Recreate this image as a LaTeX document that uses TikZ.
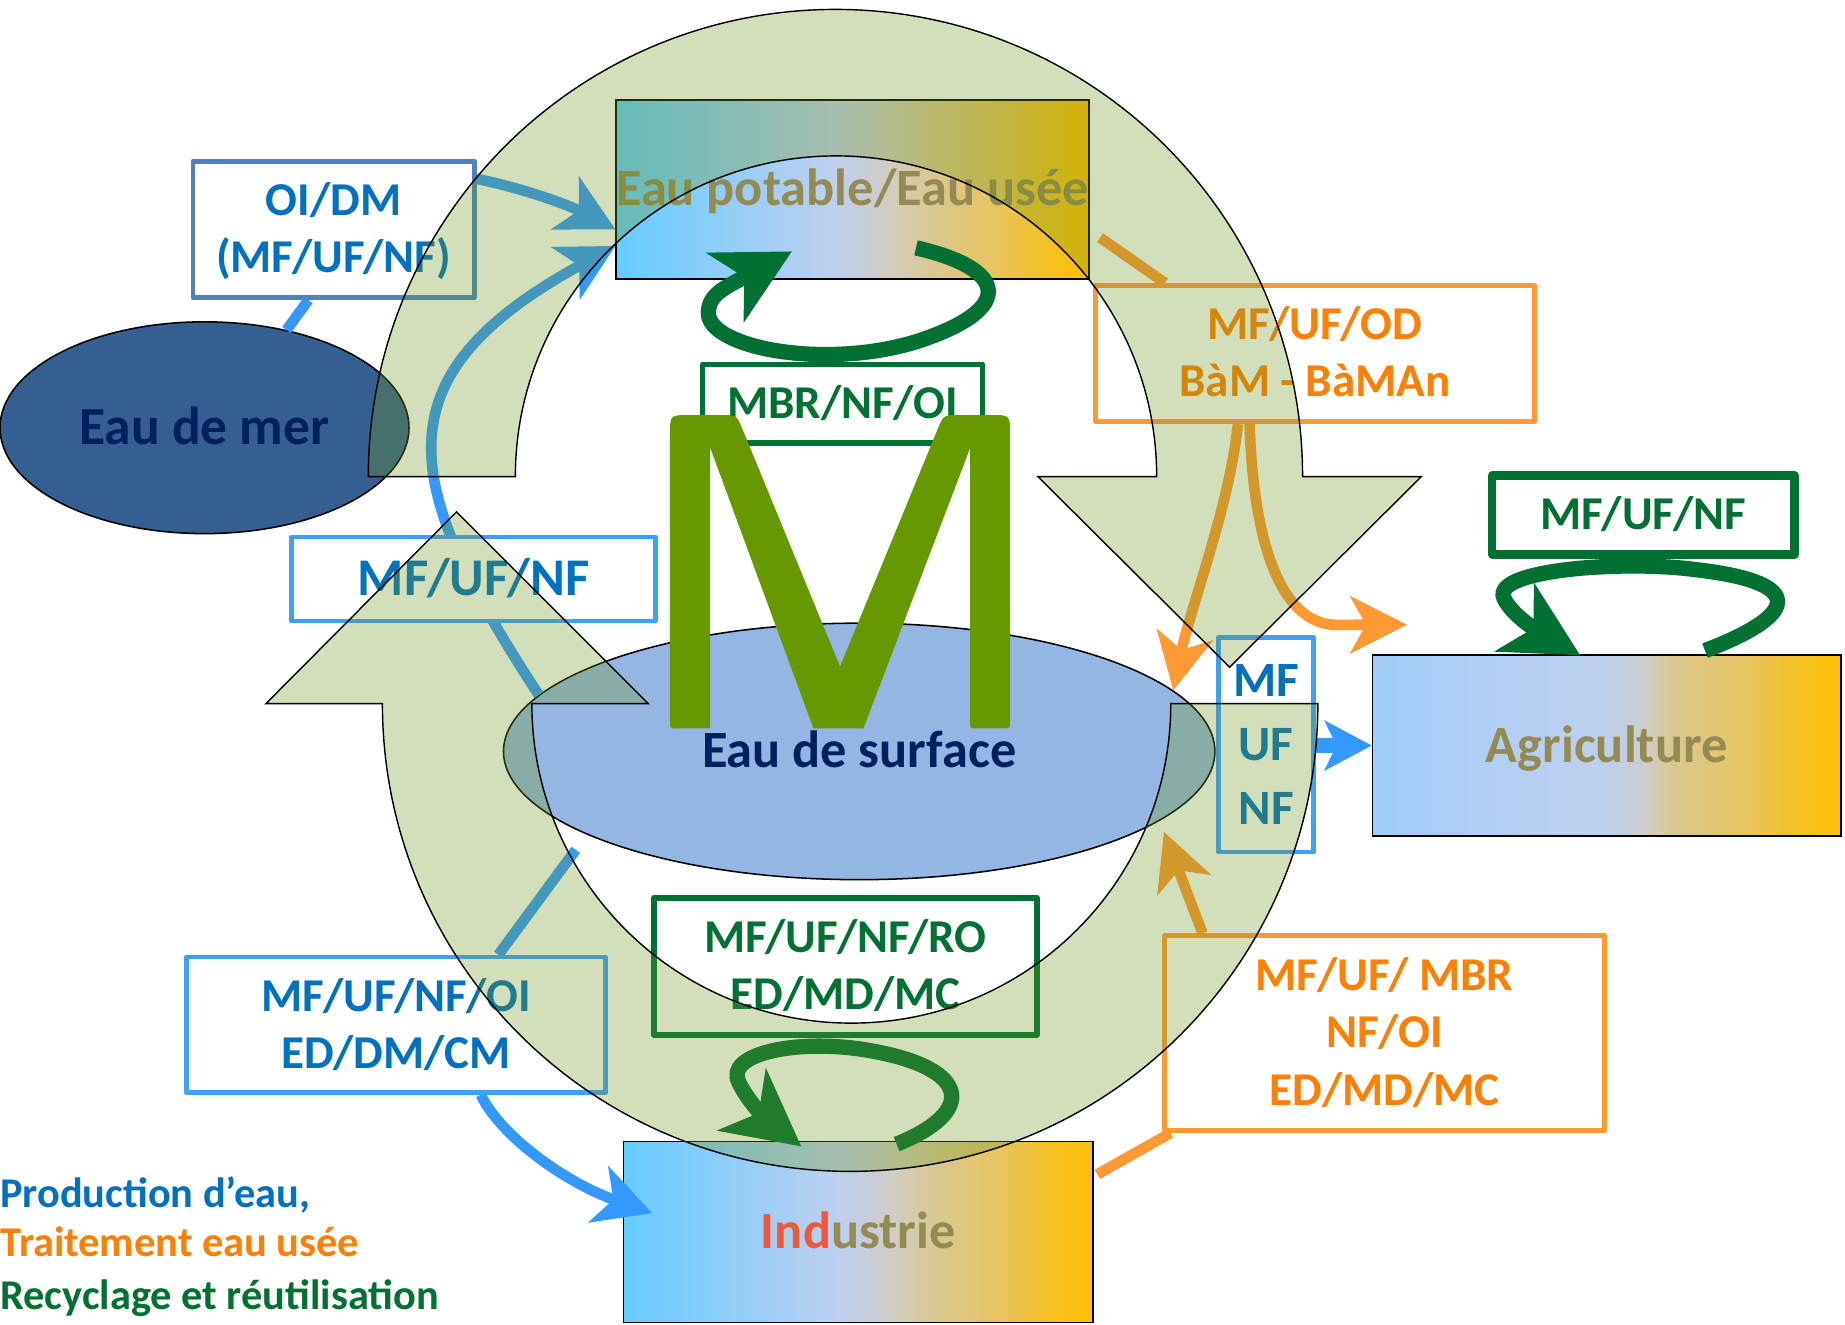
\documentclass[tikz,border=0pt]{standalone}
\usepackage{fontspec}
\setmainfont{Carlito}
\usetikzlibrary{arrows.meta,shapes.geometric}

% colours
\definecolor{seablue}{RGB}{54,95,145}
\definecolor{surfblue}{RGB}{149,182,226}
\definecolor{navytext}{RGB}{0,32,96}
\definecolor{khaki}{RGB}{148,138,84}
\definecolor{indred}{RGB}{240,88,60}
\definecolor{txtblue}{RGB}{0,112,192}
\definecolor{lineblue}{RGB}{51,153,255}
\definecolor{steel}{RGB}{79,129,189}
\definecolor{boxblue}{RGB}{60,160,255}
\definecolor{lineorange}{RGB}{255,153,51}
\definecolor{txtorange}{RGB}{255,128,0}
\definecolor{dgreen}{RGB}{0,112,51}
\definecolor{mgreen}{RGB}{102,153,0}
\definecolor{bandolive}{RGB}{110,150,30}

% gradient of the sector boxes (box edges sit at 25bp and 75bp)
\definecolor{gA0}{RGB}{102,204,255}
\definecolor{gA1}{RGB}{135,205,250}
\definecolor{gA2}{RGB}{190,208,238}
\definecolor{gA3}{RGB}{200,205,215}
\definecolor{gA4}{RGB}{210,205,190}
\definecolor{gA5}{RGB}{218,200,145}
\definecolor{gA6}{RGB}{232,196,90}
\definecolor{gA7}{RGB}{240,193,50}
\definecolor{gold}{RGB}{255,192,0}
\definecolor{gB0}{RGB}{160,205,250}
\definecolor{gB1}{RGB}{175,207,245}
\pgfdeclarehorizontalshading{usewater}{100bp}{color(0bp)=(gA0); color(25bp)=(gA0); color(34bp)=(gA1); color(48bp)=(gA2); color(51.5bp)=(gA3); color(54bp)=(gA4); color(58.5bp)=(gA5); color(65.5bp)=(gA6); color(69bp)=(gA7); color(75bp)=(gold); color(100bp)=(gold)}
\pgfdeclarehorizontalshading{agriwater}{100bp}{color(0bp)=(gB0); color(25bp)=(gB0); color(35.5bp)=(gB1); color(50bp)=(gA2); color(53bp)=(gA3); color(54.5bp)=(gA4); color(57bp)=(gA5); color(65.5bp)=(gA6); color(69bp)=(gA7); color(75bp)=(gold); color(100bp)=(gold)}

\pgfdeclarelayer{boxes}
\pgfdeclarelayer{links}
\pgfdeclarelayer{over}
\pgfsetlayers{boxes,links,main,over}

\newcommand\lblfont{\fontsize{40}{48.5}\selectfont\bfseries}
\newcommand\lblbigfont{\fontsize{45}{50}\selectfont\bfseries}
\newcommand\vfont{\fontsize{42}{54.5}\selectfont\bfseries}
\newcommand\bigfont{\fontsize{44.5}{52}\selectfont\bfseries}
\newcommand\legfont{\fontsize{36}{42}\selectfont\bfseries}
\newcommand\lnstrut{\vrule width0pt height.9em depth.268em\relax}

\begin{document}
\begin{tikzpicture}[x=1pt, y=-1pt, line join=round,
  bigbox/.style={draw=black, line width=1.3pt, inner sep=0pt, font=\bigfont, text=khaki},
  water/.style={ellipse, draw=black, line width=1.3pt, inner sep=0pt, font=\bigfont, text=navytext},
  lbl/.style={draw, fill=white, inner sep=0pt, align=center, font=\lblfont, line width=4pt},
  blueln/.style={draw=lineblue, line width=9pt},
  bluearr/.style={blueln, -{Stealth[length=48pt,width=50pt,inset=13pt]}},
  orln/.style={draw=lineorange, line width=9pt},
  orarr/.style={orln, -{Stealth[length=48pt,width=48pt,inset=13pt]}},
  gloop/.style={draw=dgreen, line width=13pt, -{Stealth[length=64pt,width=66pt,inset=18pt]}},
  band/.style={fill=bandolive, fill opacity=0.3, draw=black, line width=1.2pt},
  legline/.style={anchor=base west, inner sep=0pt, font=\legfont}]

% ---------- sectors and water bodies
\begin{pgfonlayer}{boxes}
\path[fill=white, use as bounding box] (0,0) rectangle (1568,1126);
\node[bigbox, shading=usewater, minimum width=399pt, minimum height=152pt] (potable) at (724.5,161) {\lnstrut Eau potable/Eau usée};
\node[bigbox, shading=agriwater, minimum width=398pt, minimum height=154pt] (agri) at (1365.5,633.6) {\lnstrut Agriculture};
\node[bigbox, shading=usewater, minimum width=399pt, minimum height=154pt] (industrie) at (729.4,1047) {\lnstrut\textcolor{indred}{Ind}ustrie};
\node[water, fill=seablue, minimum width=347.6pt, minimum height=180pt, font=\fontsize{45.5}{52}\selectfont\bfseries] (sea) at (173.8,363.5) {\lnstrut Eau de mer};
\node[water, fill=surfblue, minimum width=604.6pt, minimum height=218pt] (surface) at (730.2,638.6) {\lnstrut Eau de surface};
\end{pgfonlayer}

% ---------- process labels
\node[lbl, draw=steel, text=txtblue, minimum width=239pt, minimum height=116pt] (oidm) at (283.5,195) {\lnstrut OI/DM\\\lnstrut(MF/UF/NF)};
\node[lbl, draw=dgreen, text=dgreen, line width=4.5pt, minimum width=238pt, minimum height=67pt] (mbrnf) at (716,343) {\lnstrut MBR/NF/OI};
\node[lbl, draw=lineorange, text=txtorange, minimum width=373.5pt, minimum height=116pt] (od) at (1117.5,300.4) {\lnstrut MF/UF/OD\\\lnstrut BàM - BàMAn};
\node[lbl, draw=dgreen, text=dgreen, line width=7pt, minimum width=257pt, minimum height=67pt] (agrinf) at (1396.5,437.7) {\lnstrut MF/UF/NF};
\node[lbl, draw=boxblue, text=txtblue, font=\lblbigfont, minimum width=309pt, minimum height=71.5pt] (lnf) at (402.5,492) {\lnstrut MF/UF/NF};
\node[lbl, draw=boxblue, text=txtblue, font=\vfont, minimum width=81pt, minimum height=182pt] (vbox) at (1076,633) {\lnstrut MF\\\lnstrut UF\\\lnstrut NF};
\node[lbl, draw=dgreen, text=dgreen, line width=5pt, minimum width=325pt, minimum height=117pt] (ro) at (718.5,821.3) {\lnstrut MF/UF/NF/RO\\\lnstrut ED/MD/MC};
\node[lbl, draw=boxblue, text=txtblue, minimum width=356pt, minimum height=115pt] (ri) at (336.6,870.9) {\lnstrut MF/UF/NF/OI\\\lnstrut ED/DM/CM};
\node[lbl, draw=lineorange, text=txtorange, minimum width=373.6pt, minimum height=165.7pt] (mbrbox) at (1176.7,878) {\lnstrut MF/UF/ MBR\\\lnstrut NF/OI\\\lnstrut ED/MD/MC};

% ---------- flows
\begin{pgfonlayer}{links}
% water production (blue)
\draw[blueln] (sea.50.6) -- ([xshift=-21.5pt]oidm.south);
\draw[bluearr] ([yshift=43pt]oidm.east) .. controls (445,160) and (485,175) .. ([yshift=-34pt]potable.west);
\draw[bluearr] (surface.170) .. controls (340,410) and (320,320) .. ([yshift=-48pt]potable.west);
\draw[blueln, shorten <=16pt] (surface.197.5) -- ([xshift=87pt]ri.north);
\draw[bluearr] ([xshift=72pt]ri.south) .. controls (425,965) and (480,1005) .. ([xshift=25pt,yshift=16pt]industrie.west);
\draw[blueln, line width=12.5pt, -{Stealth[length=40pt,width=42pt,inset=10pt]}] (surface.east |- agri.west) -- (agri.west);
% wastewater treatment (orange)
\draw[orln] ([xshift=9pt,yshift=-41pt]potable.east) -- ([xshift=-127.5pt]od.north);
\draw[orarr] ([xshift=-65.5pt]od.south) .. controls (1045,430) and (1012,515) .. (surface.11.6);
\draw[orarr] ([xshift=-55.5pt]od.south) .. controls (1065,460) and (1088,530) .. (1135,531) -- ([xshift=30pt,yshift=25pt]agri.north west);
\draw[orarr, shorten >=10pt] ([xshift=-154.7pt]mbrbox.north) -- (surface.347.5);
\draw[orln] ([xshift=7pt]mbrbox.south west) -- ([xshift=3pt,yshift=49pt]industrie.east);
% recycling loops (green)
\draw[gloop] ([xshift=54pt,yshift=27pt]potable.south) .. controls (855,228) and (865,262) .. (780,290) .. controls (700,315) and (600,295) .. (602,265) .. controls (603,250) and (615,245) .. ([xshift=-51.5pt,yshift=24pt]potable.south);
\draw[gloop] ([xshift=83.5pt,yshift=3pt]agri.north) .. controls (1535,520) and (1530,494) .. (1440,484) .. controls (1380,476) and (1268,484) .. (1278,508) .. controls (1284,522) and (1305,535) .. ([xshift=-22.5pt,yshift=-1pt]agri.north);
\draw[gloop] ([xshift=32.6pt,yshift=-3pt]industrie.north) .. controls (830,945) and (825,908) .. (740,893) .. controls (680,882) and (615,895) .. (628,920) .. controls (635,935) and (650,950) .. ([xshift=-48.4pt,yshift=-5pt]industrie.north);
\end{pgfonlayer}

% ---------- cycle arrows, central M, legend
\begin{pgfonlayer}{over}
\path[band] (313,405) arc[start angle=180, end angle=0, radius=397pt] -- (1208,405) -- (1045,567) -- (882,405) -- (983,405) arc[start angle=0, end angle=180, radius=272.5pt] -- cycle;
\path[band] (1120,598) arc[start angle=0, end angle=-180, radius=397.5pt] -- (226,598) -- (388,435) -- (551,598) -- (452,598) arc[start angle=180, end angle=360, radius=271.5pt] -- cycle;

\fill[mgreen] (603.4,619) -- (575,619) .. controls (569.4,619) .. (569.4,613) -- (569.4,369) .. controls (569.4,352.7) .. (586,352.7) -- (612,352.7) .. controls (626,352.7) .. (631,364.7) -- (713.9,566.5) -- (796.9,364.7) .. controls (801.8,352.7) .. (816,352.7) -- (842,352.7) .. controls (858.4,352.7) .. (858.4,369) -- (858.4,613) .. controls (858.4,619) .. (852,619) -- (830,619) .. controls (824.4,619) .. (824.4,613) -- (824.4,381) -- (733.8,619) -- (691.3,619) -- (603.4,380) -- cycle;

\node[legline, text=txtblue] (leg1) at (0,1026) {Production d’eau,};
\node[legline, text=txtorange] (leg2) at (0,1068) {Traitement eau usée};
\node[legline, text=dgreen] (leg3) at (0,1112.5) {Recyclage et réutilisation};
\end{pgfonlayer}
\end{tikzpicture}
\end{document}
